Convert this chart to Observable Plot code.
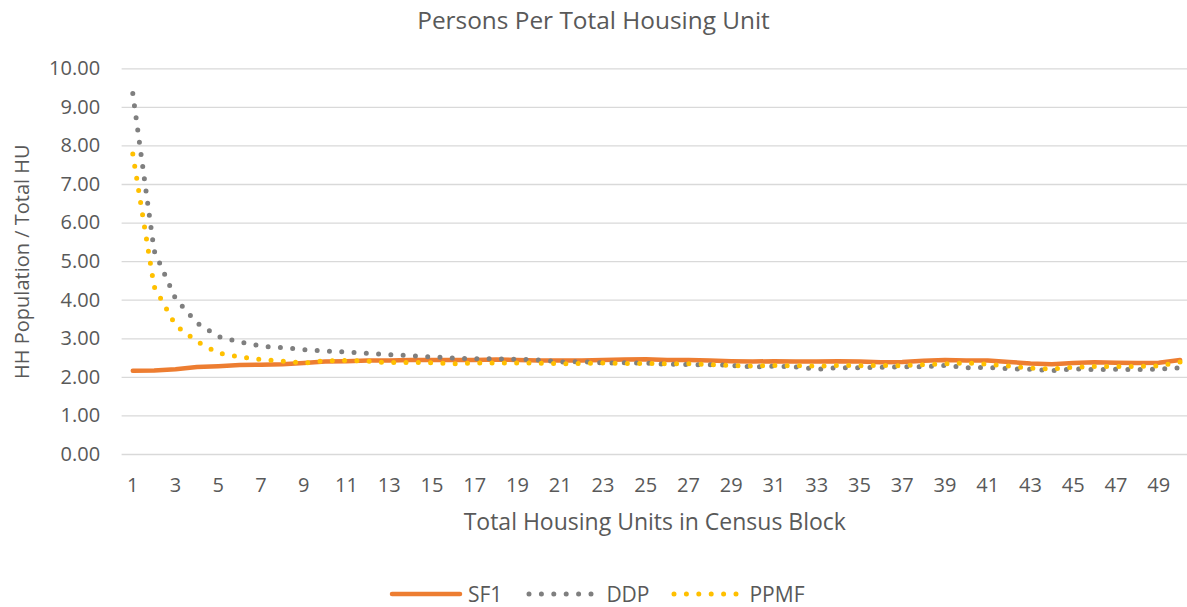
<!DOCTYPE html>
<html><head><meta charset="utf-8">
<script src="https://cdn.jsdelivr.net/npm/d3@7"></script>
<script src="https://cdn.jsdelivr.net/npm/@observablehq/plot@0.6"></script>
<style>
html,body{margin:0;padding:0;background:#fff;overflow:hidden}
#wrap{position:relative;width:1187px;height:607px;font-family:"Open Sans",sans-serif;color:#595959}
#title{position:absolute;left:0;width:1187px;top:3px;text-align:center;font-size:24.4px;line-height:34px}
#chart{position:absolute;left:0;top:48px}
#legend{position:absolute;top:580px;left:389px;display:flex;justify-content:flex-start;align-items:center;font-size:21px;line-height:28px}
.item{display:flex;align-items:center}
.item svg{display:block}
</style>
</head><body>
<div id="wrap">
  <div id="title">Persons Per Total Housing Unit</div>
  <div id="chart"></div>
  <div id="legend"></div>
</div>
<script>
const housingUnits = [1,2,3,4,5,6,7,8,9,10,11,12,13,14,15,16,17,18,19,20,21,22,23,24,25,26,27,28,29,30,31,32,33,34,35,36,37,38,39,40,41,42,43,44,45,46,47,48,49,50];
const sf1 = [2.17,2.18,2.21,2.27,2.29,2.32,2.33,2.34,2.37,2.41,2.42,2.44,2.44,2.45,2.45,2.45,2.45,2.46,2.45,2.44,2.44,2.44,2.45,2.46,2.47,2.45,2.45,2.44,2.42,2.41,2.42,2.41,2.41,2.42,2.41,2.39,2.40,2.43,2.45,2.44,2.44,2.40,2.36,2.34,2.37,2.39,2.38,2.37,2.38,2.45];
const ddp = [9.36,5.28,4.04,3.41,3.06,2.92,2.81,2.77,2.72,2.68,2.66,2.62,2.59,2.56,2.53,2.50,2.48,2.48,2.47,2.45,2.40,2.41,2.37,2.38,2.37,2.34,2.33,2.33,2.31,2.27,2.29,2.27,2.21,2.25,2.25,2.26,2.27,2.28,2.31,2.25,2.26,2.22,2.21,2.17,2.22,2.20,2.21,2.20,2.21,2.25];
const ppmf = [7.79,4.35,3.35,2.93,2.63,2.53,2.46,2.42,2.37,2.43,2.44,2.42,2.38,2.39,2.38,2.35,2.37,2.37,2.37,2.37,2.35,2.36,2.37,2.36,2.36,2.35,2.35,2.33,2.31,2.29,2.31,2.30,2.29,2.31,2.30,2.31,2.30,2.33,2.35,2.37,2.34,2.29,2.24,2.22,2.26,2.28,2.28,2.28,2.30,2.40];
const seriesNames = ["SF1","DDP","PPMF"];
const seriesColors = ["#ED7D31","#7F7F7F","#FFC000"];
const yTicks = [0,1,2,3,4,5,6,7,8,9,10];
const xTicks = [1,3,5,7,9,11,13,15,17,19,21,23,25,27,29,31,33,35,37,39,41,43,45,47,49];
const xTitle = "Total Housing Units in Census Block";
const yTitle = "HH Population / Total HU";

const toRows = vals => housingUnits.map((hu, i) => ({hu, v: vals[i]}));
const dotted = {strokeWidth: 5, strokeDasharray: "0 12.3", strokeLinecap: "round"};

const chart = Plot.plot({
  width: 1187, height: 500,
  marginTop: 20.3, marginBottom: 94, marginLeft: 121.6, marginRight: 0,
  x: {domain: [0.5, 50.5], range: [121.6, 1190.3]},
  y: {domain: [0, 10]},
  style: {fontFamily: "'Open Sans', sans-serif", fontSize: "20px", color: "#595959", overflow: "visible", background: "transparent"},
  marks: [
    Plot.ruleY(yTicks, {y: d => d, x1: 0.5, x2: 50.5, stroke: "#d9d9d9", strokeWidth: 1.3}),
    Plot.axisY({ticks: yTicks, tickFormat: d3.format(".2f"), tickSize: 0, tickPadding: 22, label: null, fontSize: 20}),
    Plot.axisX({ticks: xTicks, tickFormat: d => String(d), tickSize: 0, tickPadding: 23, label: null, fontSize: 20}),
    Plot.text([yTitle], {frameAnchor: "left", textAnchor: "middle", rotate: -90, dx: -100, fontSize: 20, fill: "#595959"}),
    Plot.text([xTitle], {frameAnchor: "bottom", textAnchor: "middle", dy: 75, fontSize: 23, fill: "#595959"}),
    Plot.lineY(toRows(sf1), {x: "hu", y: "v", stroke: seriesColors[0], strokeWidth: 4.5, strokeLinecap: "round"}),
    Plot.lineY(toRows(ddp), {x: "hu", y: "v", stroke: seriesColors[1], ...dotted}),
    Plot.lineY(toRows(ppmf), {x: "hu", y: "v", stroke: seriesColors[2], ...dotted})
  ]
});
document.getElementById("chart").appendChild(chart);

const legend = d3.select("#legend");
const textGap = [5, 6, 4.5];
const itemGap = [24, 21.5, 0];
seriesNames.forEach((name, i) => {
  const item = legend.append("div").attr("class", "item").style("margin-right", itemGap[i] + "px");
  const svg = item.append("svg").attr("width", 74).attr("height", 12);
  const line = svg.append("line").attr("x1", 3).attr("x2", i === 0 ? 71 : 65).attr("y1", 6).attr("y2", 6)
    .attr("stroke", seriesColors[i]).attr("stroke-linecap", "round");
  if (i === 0) line.attr("stroke-width", 4.5);
  else line.attr("stroke-width", 5).attr("stroke-dasharray", "0 12.4");
  item.append("span").text(name).style("margin-left", textGap[i] + "px");
});
</script>
</body></html>
